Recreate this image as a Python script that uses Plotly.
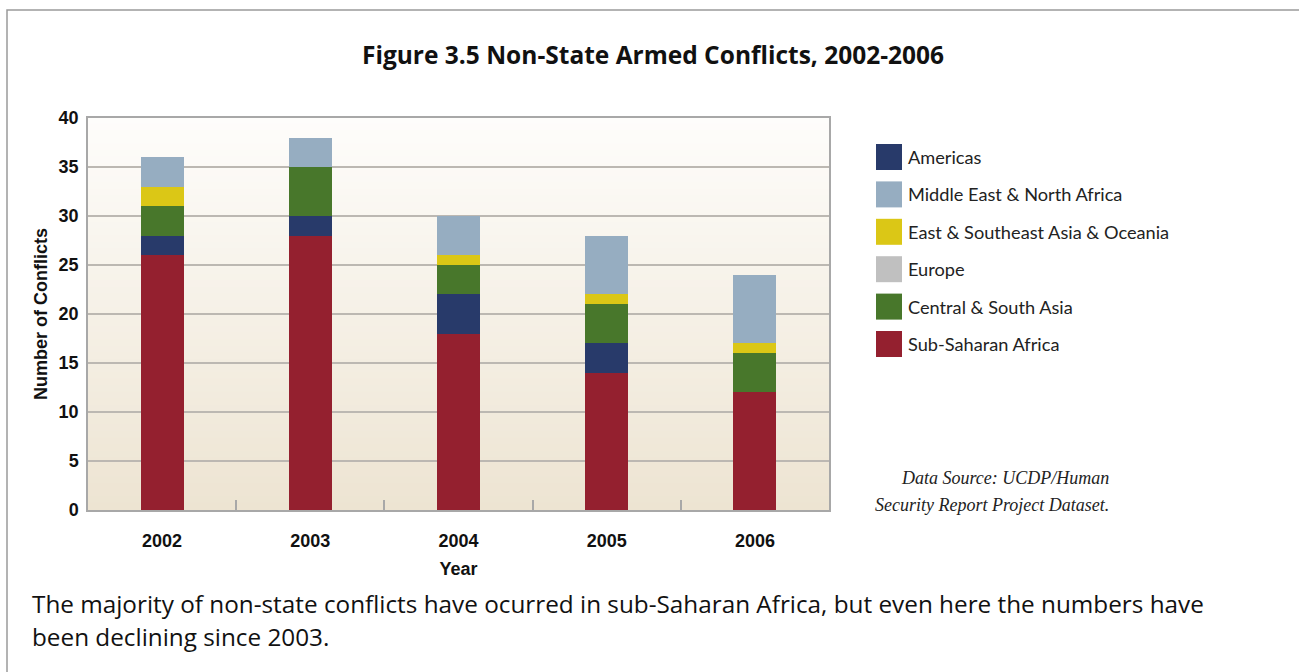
import plotly.graph_objects as go

years = ["2002", "2003", "2004", "2005", "2006"]
sub_saharan_africa = [26, 28, 18, 14, 12]
americas = [2, 2, 4, 3, 0]
central_south_asia = [3, 5, 3, 4, 4]
europe = [0, 0, 0, 0, 0]
east_se_asia_oceania = [2, 0, 1, 1, 1]
middle_east_n_africa = [3, 3, 4, 6, 7]
y_ticks = [0, 5, 10, 15, 20, 25, 30, 35, 40]

# stacking order (bottom -> top)
stack = [
    ("Sub-Saharan Africa", sub_saharan_africa, "#94202f"),
    ("Americas", americas, "#283a6a"),
    ("Central & South Asia", central_south_asia, "#48772b"),
    ("Europe", europe, "#c0c0c0"),
    ("East & Southeast Asia & Oceania", east_se_asia_oceania, "#dbc716"),
    ("Middle East & North Africa", middle_east_n_africa, "#96adc1"),
]
legend_order = ["Americas", "Middle East & North Africa", "East & Southeast Asia & Oceania",
                "Europe", "Central & South Asia", "Sub-Saharan Africa"]

W, H = 1299, 672
L, R, T, B = 88, 829, 118, 510

fig = go.Figure()
for name, vals, col in stack:
    fig.add_trace(go.Bar(x=years, y=vals, name=name, marker=dict(color=col, line=dict(width=0)),
                         width=0.29, showlegend=False))

shapes = []
# background gradient in plot area
n = 60
top_c = (254, 253, 251)
bot_c = (237, 228, 210)
for i in range(n):
    t = (i + 0.5) / n
    c = tuple(round(top_c[k] + (bot_c[k] - top_c[k]) * t) for k in range(3))
    shapes.append(dict(type="rect", xref="x domain", yref="y domain",
                       x0=0, x1=1, y0=1 - (i + 1) / n, y1=1 - i / n + 0.002,
                       fillcolor="rgb(%d,%d,%d)" % c, line=dict(width=0), layer="below"))
# outer frame
shapes.append(dict(type="rect", xref="paper", yref="paper",
                   x0=(7 - L) / (R - L), x1=(W + 20 - L) / (R - L),
                   y0=(B - (H + 20)) / (B - T), y1=(B - 10) / (B - T),
                   line=dict(color="#9a9a9a", width=1.5), fillcolor="rgba(0,0,0,0)"))

def px_x(px):
    return (px - L) / (R - L)

def px_y(py):
    return (B - py) / (B - T)

annotations = []
# manual legend
colors = {name: col for name, _, col in stack}
for i, name in enumerate(legend_order):
    cy = 157 + i * 37.4
    shapes.append(dict(type="rect", xref="paper", yref="paper",
                       x0=px_x(876), x1=px_x(902), y0=px_y(cy + 13), y1=px_y(cy - 13),
                       fillcolor=colors[name], line=dict(width=0)))
    annotations.append(dict(text=name, xref="paper", yref="paper", x=px_x(906), y=px_y(cy),
                            xanchor="left", yanchor="middle", showarrow=False,
                            font=dict(family="Lato", size=18.2, color="#222")))

annotations += [
    dict(text="<b>Figure 3.5 Non-State Armed Conflicts, 2002-2006</b>", xref="paper", yref="paper",
         x=px_x(653), y=px_y(55), xanchor="center", yanchor="middle", showarrow=False,
         font=dict(family="Open Sans", size=24.5, color="#111")),
    dict(text="<i>Data Source: UCDP/Human</i>", xref="paper", yref="paper",
         x=px_x(1111), y=px_y(478), xanchor="right", yanchor="middle", showarrow=False,
         font=dict(family="Liberation Serif", size=18, color="#222")),
    dict(text="<i>Security Report Project Dataset.</i>", xref="paper", yref="paper",
         x=px_x(1111), y=px_y(505), xanchor="right", yanchor="middle", showarrow=False,
         font=dict(family="Liberation Serif", size=18, color="#222")),
    dict(text="The majority of non-state conflicts have ocurred in sub-Saharan Africa, but even here the numbers have",
         xref="paper", yref="paper", x=px_x(30), y=px_y(603), xanchor="left", yanchor="middle",
         showarrow=False, font=dict(family="Open Sans", size=24.3, color="#111")),
    dict(text="been declining since 2003.",
         xref="paper", yref="paper", x=px_x(30), y=px_y(636), xanchor="left", yanchor="middle",
         showarrow=False, font=dict(family="Open Sans", size=24.3, color="#111")),
]

fig.update_layout(
    width=W, height=H,
    margin=dict(l=L, r=W - R, t=T, b=H - B, pad=0),
    barmode="stack",
    paper_bgcolor="white",
    plot_bgcolor="rgba(0,0,0,0)",
    showlegend=False,
    shapes=shapes,
    annotations=annotations,
    bargap=0.71,
)
axis_font = dict(family="Liberation Sans", size=18, color="#111", weight="bold")
fig.update_xaxes(
    type="category", showline=True, linecolor="#a8a8a8", linewidth=1.5, mirror=True,
    ticks="inside", tickson="boundaries", ticklen=10, tickcolor="#a8a8a8", tickwidth=1.5,
    showgrid=False,
    tickfont=axis_font,
    title=dict(text="Year", font=axis_font, standoff=12),
    ticklabelstandoff=14,
)
fig.update_yaxes(
    range=[0, 40], tickvals=y_ticks, showline=True, linecolor="#a8a8a8", linewidth=1.5, mirror=True,
    showgrid=True, gridcolor="#bcb8b2", gridwidth=1.5, zeroline=False, ticks="",
    tickfont=axis_font, ticklabelstandoff=4,
    title=dict(text="Number of Conflicts", font=axis_font, standoff=6),
)

fig.write_html("out.html")
